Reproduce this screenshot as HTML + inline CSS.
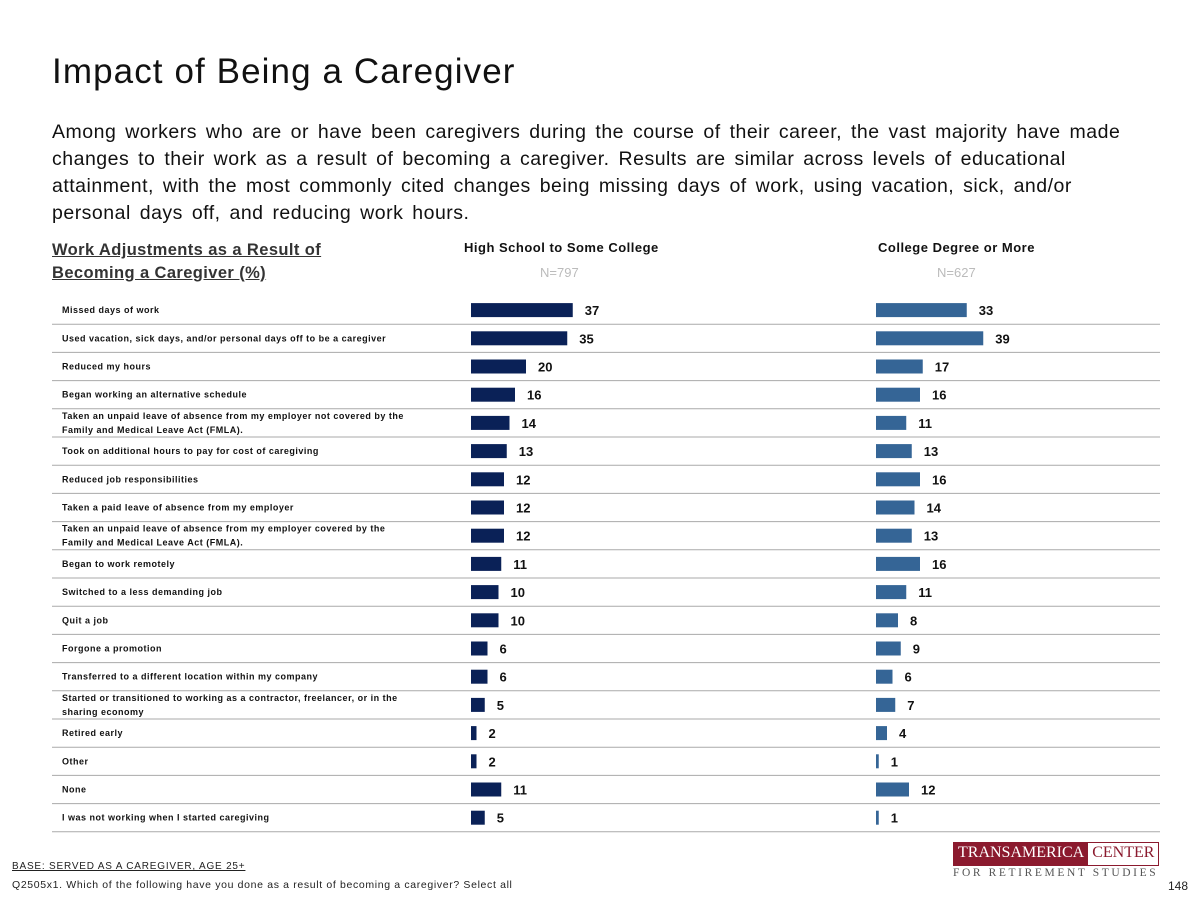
<!DOCTYPE html>
<html><head><meta charset="utf-8"><style>
body{margin:0;width:1200px;height:900px;background:#fff;font-family:"Liberation Sans",sans-serif;position:relative;overflow:hidden}
.a{position:absolute;white-space:nowrap}
</style></head><body>
<div class="a" style="left:52px;top:52px;font-size:35px;letter-spacing:1.1px;color:#111">Impact of Being a Caregiver</div>
<div class="a" style="left:52px;top:119px;font-size:19.5px;letter-spacing:0.5px;word-spacing:3px;line-height:27px;color:#111;white-space:normal;width:1105px">Among workers who are or have been caregivers during the course of their career, the vast majority have made changes to their work as a result of becoming a caregiver. Results are similar across levels of educational attainment, with the most commonly cited changes being missing days of work, using vacation, sick, and/or personal days off, and reducing work hours.</div>
<div class="a" style="left:52px;top:239px;font-size:16.5px;letter-spacing:0.4px;line-height:23px;font-weight:bold;color:#333;text-decoration:underline">Work Adjustments as a Result of<br>Becoming a Caregiver (%)</div>
<div class="a" style="left:464px;top:240px;font-size:13px;letter-spacing:0.5px;font-weight:bold;color:#111">High School to Some College</div>
<div class="a" style="left:540px;top:265px;font-size:13px;color:#bbb">N=797</div>
<div class="a" style="left:878px;top:240px;font-size:13px;letter-spacing:0.5px;font-weight:bold;color:#111">College Degree or More</div>
<div class="a" style="left:937px;top:265px;font-size:13px;color:#bbb">N=627</div>
<svg id="chart" class="a" style="left:0;top:0" width="1200" height="900"></svg>
<div class="a" style="left:12px;top:861px;font-size:10px;letter-spacing:0.8px;color:#222;text-decoration:underline">BASE: SERVED AS A CAREGIVER, AGE 25+</div>
<div class="a" style="left:12px;top:879px;font-size:10.5px;letter-spacing:0.65px;color:#222">Q2505x1. Which of the following have you done as a result of becoming a caregiver? Select all</div>
<div class="a" style="left:953px;top:842px;height:22px;border:1px solid #8b1a2e;display:flex;font-family:'Liberation Serif',serif;font-size:16px">
<span style="background:#8b1a2e;color:#fff;padding:1px 4px">TRANSAMERICA</span><span style="color:#8b1a2e;padding:1px 4px">CENTER</span></div>
<div class="a" style="left:953px;top:867px;font-family:'Liberation Serif',serif;font-size:11.5px;letter-spacing:2.6px;color:#555">FOR RETIREMENT STUDIES</div>
<div class="a" style="left:1168px;top:879px;font-size:12px;color:#222">148</div>
<script>
const categories=["Missed days of work","Used vacation, sick days, and/or personal days off to be a caregiver","Reduced my hours","Began working an alternative schedule","Taken an unpaid leave of absence from my employer not covered by the|Family and Medical Leave Act (FMLA).","Took on additional hours to pay for cost of caregiving","Reduced job responsibilities","Taken a paid leave of absence from my employer","Taken an unpaid leave of absence from my employer covered by the|Family and Medical Leave Act (FMLA).","Began to work remotely","Switched to a less demanding job","Quit a job","Forgone a promotion","Transferred to a different location within my company","Started or transitioned to working as a contractor, freelancer, or in the|sharing economy","Retired early","Other","None","I was not working when I started caregiving"];
const hsValues=[37,35,20,16,14,13,12,12,12,11,10,10,6,6,5,2,2,11,5];
const collegeValues=[33,39,17,16,11,13,16,14,13,16,11,8,9,6,7,4,1,12,1];
const svg=document.getElementById('chart');const NS='http://www.w3.org/2000/svg';
const top0=296,rowH=28.2,scale=2.75;
const xHS=v=>471+v*scale, xC=v=>876+v*scale, yRow=i=>top0+i*rowH;
function mk(t,a){const e=document.createElementNS(NS,t);for(const k in a)e.setAttribute(k,a[k]);svg.appendChild(e);return e;}
categories.forEach((c,i)=>{
 const y=yRow(i),cy=y+rowH/2;
 const ln=mk('line',{x1:52,x2:1160,y1:y+rowH,y2:y+rowH,stroke:'#aaa','stroke-width':1});
 
 const parts=c.split('|');
 const t=mk('text',{x:62,y:parts.length>1?cy-4:cy+3,'font-size':9,'letter-spacing':0.5,'font-weight':'bold',fill:'#111','font-family':'Liberation Sans'});
 
 parts.forEach((p,j)=>{const s=document.createElementNS(NS,'tspan');s.setAttribute('x',62);if(j)s.setAttribute('dy',14);s.textContent=p;t.appendChild(s);});
 [[hsValues[i],xHS,'#0a2157','hs'],[collegeValues[i],xC,'#356596','college']].forEach(([v,xf,col,nm])=>{
  const b=mk('rect',{x:xf(0),y:cy-7,width:xf(v)-xf(0),height:14,fill:col});
  
  const l=mk('text',{x:xf(v)+12,y:cy+5,'font-size':13,'font-weight':'bold',fill:'#111','font-family':'Liberation Sans'});
  
  l.textContent=v;
 });
});
</script>
</body></html>
